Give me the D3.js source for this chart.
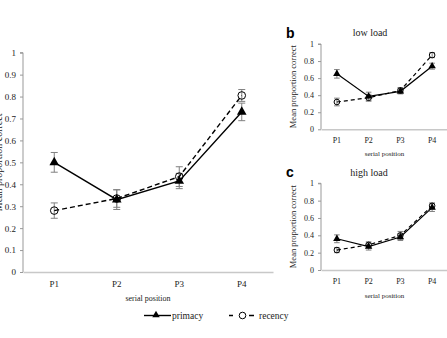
<html>
<head>
<script src="https://d3js.org/d3.v7.min.js"></script>
<style>
  body { margin: 0; background: #fff; }
  text { font-family: "Liberation Serif", "DejaVu Serif", serif; fill: #222; }
  .lbl { font-family: "Liberation Sans", Arial, sans-serif; font-weight: bold; fill: #000; }
</style>
</head>
<body>
<svg id="chart" width="447" height="338"></svg>
<script>
const positions = ["P1", "P2", "P3", "P4"];
const yTicksMain = [0, 0.1, 0.2, 0.3, 0.4, 0.5, 0.6, 0.7, 0.8, 0.9, 1];
const yTicksSmall = [0, 0.2, 0.4, 0.6, 0.8, 1];

// panel a (overall)
const allPrimacy = [0.50, 0.33, 0.415, 0.73];
const allPrimacyErr = [0.045, 0.045, 0.035, 0.04];
const allRecency = [0.28, 0.335, 0.435, 0.805];
const allRecencyErr = [0.035, 0.04, 0.045, 0.027];

// panel b (low load)
const lowPrimacy = [0.65, 0.385, 0.445, 0.74];
const lowPrimacyErr = [0.05, 0.05, 0.03, 0.035];
const lowRecency = [0.32, 0.37, 0.455, 0.87];
const lowRecencyErr = [0.045, 0.04, 0.035, 0.03];

// panel c (high load)
const highPrimacy = [0.36, 0.27, 0.38, 0.72];
const highPrimacyErr = [0.045, 0.04, 0.04, 0.045];
const highRecency = [0.23, 0.29, 0.40, 0.74];
const highRecencyErr = [0.03, 0.035, 0.045, 0.035];

const svg = d3.select('svg#chart');

function drawPanel(opt) {
  const x = d3.scaleBand().domain(positions).range([opt.x0, opt.x1]);
  const y = d3.scaleLinear().domain([0, 1]).range([opt.y0, opt.y1]);
  const g = svg.append('g');

  // y axis
  const yAxis = g.append('g')
    .attr('transform', `translate(${opt.x0},0)`)
    .call(d3.axisLeft(y).tickValues(opt.ticks).tickSize(opt.tick).tickPadding(opt.tickPad)
      .tickFormat(d => d3.format('')(+d.toFixed(1))));
  yAxis.select('.domain').attr('stroke', '#999').attr('d', `M${-opt.tick},${opt.y1}H0V${opt.y0}`);
  yAxis.selectAll('.tick line').attr('stroke', '#999');
  yAxis.selectAll('.tick text').style('font-size', opt.fs + 'px').attr('fill', '#222');

  // x axis
  const xAxis = g.append('g')
    .attr('transform', `translate(0,${opt.y0})`)
    .call(d3.axisBottom(x).tickSize(0).tickPadding(opt.xPad));
  xAxis.select('.domain').attr('stroke', '#c8c8c8').attr('stroke-width', 1.5);
  xAxis.selectAll('.tick text').style('font-size', opt.fs + 'px').attr('fill', '#222');

  // x title
  g.append('text')
    .attr('x', (opt.x0 + opt.x1) / 2 + opt.titleShift)
    .attr('y', opt.xTitleY)
    .attr('text-anchor', 'middle')
    .style('font-size', opt.xTitleFs + 'px')
    .text('serial position');

  // y title
  g.append('text')
    .attr('transform', `translate(${opt.yTitleX},${(opt.y0 + opt.y1) / 2}) rotate(-90)`)
    .attr('text-anchor', 'middle')
    .style('font-size', opt.yTitleFs + 'px')
    .text('Mean proportion correct');

  if (opt.title) {
    g.append('text')
      .attr('x', opt.titleX).attr('y', opt.titleY)
      .attr('text-anchor', 'middle')
      .style('font-size', '10px')
      .text(opt.title);
    g.append('text').attr('class', 'lbl')
      .attr('x', opt.lblX).attr('y', opt.lblY)
      .style('font-size', '14px')
      .text(opt.lbl);
  }

  const cx = d => x(d) + x.bandwidth() / 2;
  const series = [
    { vals: opt.rec, err: opt.recErr, dash: opt.dash, marker: 'circle' },
    { vals: opt.prim, err: opt.primErr, dash: null, marker: 'triangle' }
  ];

  series.forEach(s => {
    // error bars
    positions.forEach((p, i) => {
      const eb = g.append('g').attr('stroke', '#808080').attr('stroke-width', 1);
      eb.append('line').attr('x1', cx(p)).attr('x2', cx(p))
        .attr('y1', y(s.vals[i] - s.err[i])).attr('y2', y(s.vals[i] + s.err[i]));
      [s.vals[i] - s.err[i], s.vals[i] + s.err[i]].forEach(v => {
        eb.append('line').attr('x1', cx(p) - opt.cap).attr('x2', cx(p) + opt.cap)
          .attr('y1', y(v)).attr('y2', y(v));
      });
    });
  });

  series.forEach(s => {
    const line = d3.line().x((d, i) => cx(positions[i])).y(d => y(d));
    g.append('path').datum(s.vals)
      .attr('d', line)
      .attr('fill', 'none')
      .attr('stroke', '#000')
      .attr('stroke-width', opt.lw)
      .attr('stroke-dasharray', s.dash);
    positions.forEach((p, i) => {
      if (s.marker === 'circle') {
        g.append('circle').attr('cx', cx(p)).attr('cy', y(s.vals[i])).attr('r', opt.r)
          .attr('fill', 'none').attr('stroke', '#000').attr('stroke-width', 1);
      } else {
        g.append('path')
          .attr('d', d3.symbol().type(d3.symbolTriangle).size(opt.tri)())
          .attr('transform', `translate(${cx(p)},${y(s.vals[i])})`)
          .attr('fill', '#000');
      }
    });
  });
}

drawPanel({
  x0: 23, x1: 273, y0: 272, y1: 52.7, ticks: yTicksMain, tick: 3, tickPad: 4, xPad: 9,
  fs: 9, xTitleY: 301, xTitleFs: 8, titleShift: 0, yTitleX: 2, yTitleFs: 10,
  prim: allPrimacy, primErr: allPrimacyErr, rec: allRecency, recErr: allRecencyErr,
  dash: '5,3', cap: 3.5, lw: 1.4, r: 3.8, tri: 40
});

drawPanel({
  x0: 321, x1: 448, y0: 129.3, y1: 44, ticks: yTicksSmall, tick: 3, tickPad: 4, xPad: 8,
  fs: 8, xTitleY: 155.5, xTitleFs: 7, titleShift: 0, yTitleX: 296, yTitleFs: 8.5,
  title: 'low load', titleX: 370, titleY: 36, lbl: 'b', lblX: 286, lblY: 38,
  prim: lowPrimacy, primErr: lowPrimacyErr, rec: lowRecency, recErr: lowRecencyErr,
  dash: '4,3', cap: 2.8, lw: 1.2, r: 2.8, tri: 24
});

drawPanel({
  x0: 321, x1: 448, y0: 270, y1: 183.3, ticks: yTicksSmall, tick: 3, tickPad: 4, xPad: 8,
  fs: 8, xTitleY: 298, xTitleFs: 7, titleShift: 0, yTitleX: 296, yTitleFs: 8.5,
  title: 'high load', titleX: 369, titleY: 176, lbl: 'c', lblX: 286, lblY: 177,
  prim: highPrimacy, primErr: highPrimacyErr, rec: highRecency, recErr: highRecencyErr,
  dash: '4,3', cap: 2.8, lw: 1.2, r: 2.8, tri: 24
});

// legend
const leg = svg.append('g');
leg.append('line').attr('x1', 144).attr('x2', 171).attr('y1', 315.5).attr('y2', 315.5)
  .attr('stroke', '#000').attr('stroke-width', 1.4);
leg.append('path').attr('d', d3.symbol().type(d3.symbolTriangle).size(24)())
  .attr('transform', 'translate(156,315)').attr('fill', '#000');
leg.append('text').attr('x', 172).attr('y', 318.5).style('font-size', '9.5px').text('primacy');
leg.append('line').attr('x1', 229).attr('x2', 254).attr('y1', 315.5).attr('y2', 315.5)
  .attr('stroke', '#000').attr('stroke-width', 1.4).attr('stroke-dasharray', '4,16,5');
leg.append('circle').attr('cx', 242.5).attr('cy', 315.5).attr('r', 3.3)
  .attr('fill', '#fff').attr('stroke', '#000').attr('stroke-width', 1);
leg.append('text').attr('x', 259).attr('y', 318.5).style('font-size', '9.5px').text('recency');
</script>
</body>
</html>
